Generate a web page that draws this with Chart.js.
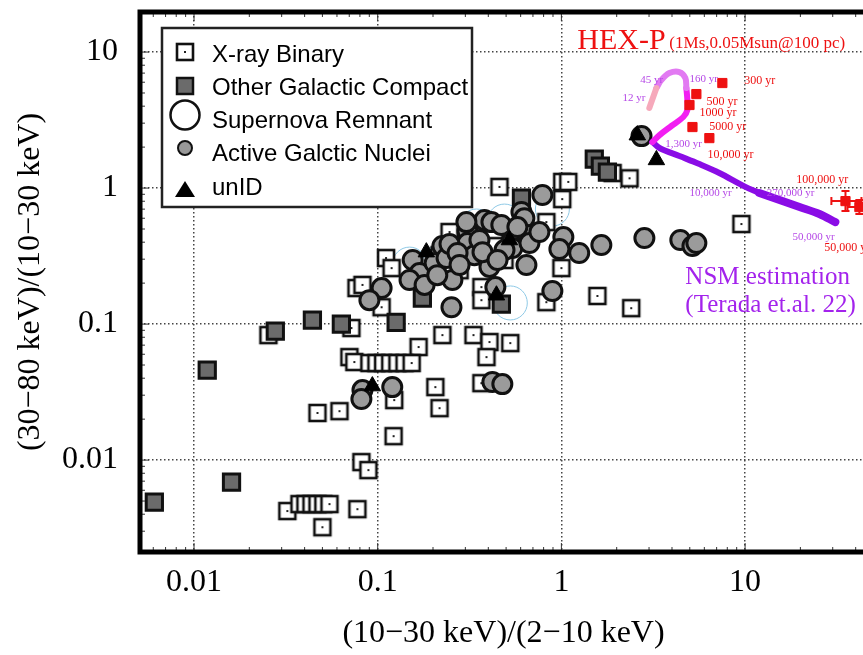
<!DOCTYPE html>
<html lang="en">
<head>
<meta charset="UTF-8">
<title>Hardness ratio diagram</title>
<style>
  html, body { margin: 0; padding: 0; background: #fff; overflow: hidden; }
  #hr { display: block; }
</style>
</head>
<body>
<canvas id="hr" width="867" height="655"></canvas>
<script src="https://cdn.jsdelivr.net/npm/chart.js"></script>
<script>
// ---- data: x = (10-30 keV)/(2-10 keV), y = (30-80 keV)/(10-30 keV) ----
const xTicks = [0.01, 0.1, 1, 10];
const yTicks = [0.01, 0.1, 1, 10];

const xrbX = [0.460, 1.01, 1.09, 1.01, 1.90, 2.35, 0.828, 1.00, 1.57, 2.40, 9.55,
  0.0766, 0.0826, 0.111, 0.119, 0.105, 0.262, 0.246, 0.367, 0.367, 0.828, 0.316, 0.432, 0.590, 0.490, 0.217, 0.279,
  0.225, 0.332, 0.406, 0.527, 0.391, 0.167, 0.0701, 0.0746, 0.206, 0.217, 0.123, 0.0470, 0.0619, 0.122, 0.0815,
  0.0890, 0.0322, 0.0775, 0.0500, 0.367, 0.0254, 0.0719,
  0.0901, 0.0984, 0.107, 0.117, 0.128, 0.140, 0.153,
  0.0375, 0.0404, 0.0436, 0.0470, 0.0506, 0.0546];
const xrbY = [1.02, 1.11, 1.11, 0.830, 1.29, 1.18, 0.562, 0.258, 0.161, 0.131, 0.544,
  0.184, 0.194, 0.306, 0.258, 0.133, 0.436, 0.475, 0.187, 0.150, 0.145, 0.350, 0.491, 0.415, 0.296, 0.321, 0.249,
  0.0830, 0.0830, 0.0738, 0.0725, 0.0572, 0.0678, 0.0572, 0.0526, 0.0344, 0.0241, 0.0276, 0.0222, 0.0229, 0.0150, 0.00967,
  0.00844, 0.00422, 0.00436, 0.00321, 0.0368, 0.0830, 0.0935,
  0.0517, 0.0517, 0.0517, 0.0517, 0.0517, 0.0517, 0.0517,
  0.00475, 0.00475, 0.00475, 0.00475, 0.00475, 0.00475];

const ogcX = [0.00608, 0.0118, 0.0160, 0.0277, 0.0441, 0.0634, 0.126, 0.175, 0.471, 0.606, 1.51, 1.63, 1.78];
const ogcY = [0.00491, 0.0459, 0.00688, 0.0889, 0.107, 0.100, 0.103, 0.155, 0.140, 0.844, 1.63, 1.45, 1.31];

const agnX = [0.105, 0.0901, 0.155, 0.169, 0.149, 0.204, 0.225, 0.237, 0.255, 0.252, 0.308, 0.308, 0.336, 0.381,
  0.416, 0.471, 0.406, 0.437, 0.534, 0.541, 0.606, 0.629, 0.653, 0.670, 0.645, 0.759, 0.788, 1.025, 0.975, 1.25,
  1.65, 2.83, 4.44, 5.17, 5.43, 0.893, 0.246, 0.304, 0.272, 0.358, 0.372, 0.576, 0.490, 0.449, 0.279, 0.180, 0.211,
  0.0826, 0.120, 0.0815, 0.421, 0.477, 2.73];
const agnY = [0.184, 0.150, 0.296, 0.237, 0.211, 0.281, 0.375, 0.306, 0.211, 0.133, 0.483, 0.394, 0.321, 0.582,
  0.562, 0.535, 0.263, 0.187, 0.401, 0.362, 0.667, 0.601, 0.451, 0.394, 0.272, 0.475, 0.889, 0.436, 0.356, 0.333,
  0.381, 0.429, 0.415, 0.375, 0.394, 0.175, 0.388, 0.562, 0.333, 0.415, 0.338, 0.517, 0.350, 0.296, 0.272, 0.194, 0.229,
  0.0327, 0.0344, 0.0281, 0.0375, 0.0362, 2.41];

const unidX = [0.0935, 0.184, 0.521, 0.443, 2.59, 3.29];
const unidY = [0.0350, 0.338, 0.415, 0.163, 2.45, 1.61];

const snrX = [0.149, 0.217, 0.345, 0.490, 0.893, 0.527];
const snrY = [0.276, 0.286, 0.526, 0.572, 0.701, 0.143];

// NSM track, split by age range
const nsmPinkX = [3.01, 3.29];
const nsmPinkY = [3.88, 5.44];
const nsmLilacX = [3.29, 3.50, 3.87, 4.39, 4.73, 4.79];
const nsmLilacY = [5.44, 6.22, 7.01, 7.13, 6.44, 5.44];
const nsmMagX = [4.79, 4.85, 4.85, 4.61, 3.97, 3.42, 3.13];
const nsmMagY = [5.44, 4.44, 3.75, 3.33, 2.86, 2.45, 2.18];
const nsmPurpleX = [3.13, 3.42, 4.39, 5.64, 7.24, 9.91, 11.96];
const nsmPurpleY = [2.18, 1.97, 1.72, 1.50, 1.29, 1.03, 0.919];
const nsmTailX = [11.96, 15.4, 19.8, 25.4, 31.0];
const nsmTailY = [0.919, 0.816, 0.725, 0.644, 0.562];

// HEX-P simulated points with errors (null = no bar)
const hexX = [7.52, 5.43, 4.98, 5.17, 6.39, 35.2, 41.9];
const hexY = [5.92, 4.91, 4.08, 2.81, 2.33, 0.802, 0.725];
const hexXLo = [null, null, null, null, null, 29.5, 36.1];
const hexXHi = [null, null, null, null, null, 43.0, 48.7];
const hexYLo = [null, null, null, null, null, 0.677, 0.644];
const hexYHi = [null, null, null, null, null, 0.950, 0.816];

// age labels: [text, x, y]
const nsmAges = [['12 yr', 2.15, 4.59], ['45 yr', 2.69, 6.22], ['160 yr', 4.98, 6.33], ['1,300 yr', 3.68, 2.11],
  ['10,000 yr', 4.98, 0.919], ['270,000 yr', 13.1, 0.919], ['50,000 yr', 18.1, 0.436]];
const hexAges = [['300 yr', 9.91, 6.12], ['500 yr', 6.16, 4.29], ['1000 yr', 5.64, 3.56], ['5000 yr', 6.39, 2.81],
  ['10,000 yr', 6.24, 1.75], ['100,000 yr', 19.0, 1.15], ['50,000 yr', 27.0, 0.362]];

const zip = (xs, ys) => xs.map((v, i) => ({ x: v, y: ys[i] }));

const serif = '"Liberation Serif", "Times New Roman", serif';
const sans = '"Liberation Sans", Arial, sans-serif';
const RED = '#ee1111';
const VIOLET = '#a323ec';

// open square with a dot in the middle
function openSquare() {
  const c = document.createElement('canvas');
  c.width = 22; c.height = 22;
  const g = c.getContext('2d');
  g.fillStyle = '#fff';
  g.fillRect(3, 3, 16, 16);
  g.lineWidth = 2.6;
  g.strokeStyle = '#111';
  g.strokeRect(3, 3, 16, 16);
  g.fillStyle = '#222';
  g.fillRect(10, 10, 2, 2);
  return c;
}

function track(xs, ys, color, width, order) {
  return {
    data: zip(xs, ys), showLine: true, pointRadius: 0, borderColor: color, borderWidth: width,
    borderCapStyle: 'round', borderJoinStyle: 'round', tension: 0.35, order: order
  };
}

// keep the plot box where it is, no room reserved for edge labels
function noEdgePadding(s) {
  s.paddingTop = 0; s.paddingBottom = 0; s.paddingLeft = 0; s.paddingRight = 0;
}

const framePlugin = {
  id: 'frame',
  afterDraw(chart) {
    const { ctx, chartArea: a, scales: { x, y } } = chart;
    ctx.save();
    ctx.strokeStyle = '#333';
    ctx.lineWidth = 1;
    ctx.beginPath();
    for (let d = -3; d <= 2; d++) {
      for (let m = 1; m <= 9; m++) {
        const v = m * Math.pow(10, d);
        const len = m === 1 ? 9 : 5;
        const px = x.getPixelForValue(v);
        if (px > a.left + 2 && px < a.right - 2) {
          ctx.moveTo(px, a.bottom); ctx.lineTo(px, a.bottom - len);
          ctx.moveTo(px, a.top); ctx.lineTo(px, a.top + len);
        }
        const py = y.getPixelForValue(v);
        if (py > a.top + 2 && py < a.bottom - 2) {
          ctx.moveTo(a.left, py); ctx.lineTo(a.left + len, py);
        }
      }
    }
    ctx.stroke();
    ctx.lineWidth = 5;
    ctx.strokeStyle = '#000';
    ctx.strokeRect(a.left, a.top, a.right - a.left, a.bottom - a.top);
    ctx.restore();
  }
};

const notesPlugin = {
  id: 'notes',
  afterDatasetsDraw(chart) {
    const { ctx, scales: { x, y } } = chart;
    ctx.save();
    // error bars on the HEX-P points
    ctx.strokeStyle = RED;
    ctx.lineWidth = 2;
    hexX.forEach((v, i) => {
      if (hexXLo[i] === null) return;
      const px = x.getPixelForValue(v), py = y.getPixelForValue(hexY[i]);
      const x0 = x.getPixelForValue(hexXLo[i]), x1 = x.getPixelForValue(hexXHi[i]);
      const y0 = y.getPixelForValue(hexYLo[i]), y1 = y.getPixelForValue(hexYHi[i]);
      ctx.beginPath();
      ctx.moveTo(x0, py); ctx.lineTo(x1, py);
      ctx.moveTo(x0, py - 4); ctx.lineTo(x0, py + 4);
      ctx.moveTo(x1, py - 4); ctx.lineTo(x1, py + 4);
      ctx.moveTo(px, y0); ctx.lineTo(px, y1);
      ctx.moveTo(px - 4, y0); ctx.lineTo(px + 4, y0);
      ctx.moveTo(px - 4, y1); ctx.lineTo(px + 4, y1);
      ctx.stroke();
    });
    ctx.textBaseline = 'middle';
    ctx.textAlign = 'left';
    ctx.font = '11px ' + serif;
    ctx.fillStyle = '#b548e6';
    nsmAges.forEach(([t, vx, vy]) => ctx.fillText(t, x.getPixelForValue(vx), y.getPixelForValue(vy)));
    ctx.font = '12px ' + serif;
    ctx.fillStyle = RED;
    hexAges.forEach(([t, vx, vy]) => ctx.fillText(t, x.getPixelForValue(vx), y.getPixelForValue(vy)));

    ctx.font = '30px ' + serif;
    ctx.fillText('HEX-P', x.getPixelForValue(1.22), y.getPixelForValue(12.0));
    ctx.font = '17px ' + serif;
    ctx.fillText('(1Ms,0.05Msun@100 pc)', x.getPixelForValue(3.87), y.getPixelForValue(11.5));

    ctx.font = '25px ' + serif;
    ctx.fillStyle = VIOLET;
    ctx.fillText('NSM estimation', x.getPixelForValue(4.73), y.getPixelForValue(0.222));
    ctx.fillText('(Terada et.al. 22)', x.getPixelForValue(4.73), y.getPixelForValue(0.138));
    ctx.restore();
  }
};

// legend box in the upper left of the plot
const legendPlugin = {
  id: 'boxLegend',
  afterDraw(chart) {
    const ctx = chart.ctx;
    const left = 162, top = 28, w = 310, h = 179;
    const rows = ['X-ray Binary', 'Other Galactic Compact', 'Supernova Remnant', 'Active Galctic Nuclei', 'unID'];
    const ty = [55, 88, 121, 154, 188];
    const my = [52, 86, 115, 148, 190];
    const mx = 185;
    ctx.save();
    ctx.fillStyle = '#fff';
    ctx.fillRect(left, top, w, h);
    ctx.lineWidth = 2.5;
    ctx.strokeStyle = '#222';
    ctx.strokeRect(left, top, w, h);

    ctx.drawImage(openSquare(), mx - 11, my[0] - 11);
    ctx.fillStyle = '#6b6b6b';
    ctx.fillRect(mx - 8, my[1] - 8, 16, 16);
    ctx.lineWidth = 2.5;
    ctx.strokeStyle = '#111';
    ctx.strokeRect(mx - 8, my[1] - 8, 16, 16);
    ctx.beginPath();
    ctx.arc(mx, my[2], 14.5, 0, Math.PI * 2);
    ctx.stroke();
    ctx.beginPath();
    ctx.arc(mx, my[3], 7, 0, Math.PI * 2);
    ctx.fillStyle = '#999';
    ctx.fill();
    ctx.lineWidth = 2;
    ctx.stroke();
    ctx.beginPath();
    ctx.moveTo(mx, my[4] - 9);
    ctx.lineTo(mx + 10, my[4] + 7);
    ctx.lineTo(mx - 10, my[4] + 7);
    ctx.closePath();
    ctx.fillStyle = '#000';
    ctx.fill();

    ctx.font = '24px ' + sans;
    ctx.textBaseline = 'middle';
    ctx.fillStyle = '#000';
    rows.forEach((t, i) => ctx.fillText(t, 212, ty[i]));
    ctx.restore();
  }
};

new Chart(document.getElementById('hr'), {
  type: 'scatter',
  data: {
    datasets: [
      { label: 'Supernova Remnant', data: zip(snrX, snrY), pointStyle: 'circle', pointRadius: 17,
        backgroundColor: 'rgba(0,0,0,0)', borderColor: '#8ec9e6', borderWidth: 1, order: 10 },
      { label: 'X-ray Binary', data: zip(xrbX, xrbY), pointStyle: openSquare(), pointRadius: 10, order: 9 },
      { label: 'Other Galactic Compact', data: zip(ogcX, ogcY), pointStyle: 'rect', pointRadius: 11.5,
        backgroundColor: '#6b6b6b', borderColor: '#111', borderWidth: 3, order: 8 },
      { label: 'Active Galctic Nuclei', data: zip(agnX, agnY), pointStyle: 'circle', pointRadius: 9.5,
        backgroundColor: '#9b9b9b', borderColor: '#111', borderWidth: 3, order: 7 },
      { label: 'unID', data: zip(unidX, unidY), pointStyle: 'triangle', pointRadius: 9.5,
        backgroundColor: '#000', borderColor: '#000', borderWidth: 1, order: 6 },
      track(nsmPinkX, nsmPinkY, '#f6a9bb', 6, 5),
      track(nsmLilacX, nsmLilacY, '#e27af2', 6, 5),
      track(nsmMagX, nsmMagY, '#f21ef2', 6, 5),
      track(nsmPurpleX, nsmPurpleY, '#8a0ce6', 6, 5),
      track(nsmTailX, nsmTailY, '#8a0ce6', 8, 5),
      { label: 'HEX-P', data: zip(hexX, hexY), pointStyle: 'rect', pointRadius: 6.5,
        backgroundColor: RED, borderColor: RED, borderWidth: 1, order: 4 }
    ]
  },
  options: {
    responsive: false,
    animation: false,
    devicePixelRatio: 1,
    layout: { autoPadding: false, padding: { top: 12, right: 0, left: 0, bottom: 0 } },
    plugins: { legend: { display: false }, tooltip: { enabled: false } },
    scales: {
      x: {
        type: 'logarithmic', min: 0.00508, max: 46.1,
        afterBuildTicks: s => { s.ticks = xTicks.map(v => ({ value: v })); },
        afterFit: s => { s.height = 103; noEdgePadding(s); },
        grid: { color: '#444', lineWidth: 1.5, drawTicks: false },
        border: { display: false, dash: [1.5, 2.5] },
        ticks: { font: { family: serif, size: 32 }, color: '#000', padding: 11, autoSkip: false, maxRotation: 0,
          callback: v => String(v) },
        title: { display: true, text: '(10\u221230 keV)/(2\u221210 keV)', font: { family: serif, size: 32 },
          color: '#000', padding: { top: 0, bottom: 2 } }
      },
      y: {
        type: 'logarithmic', min: 0.00211, max: 19.7,
        afterBuildTicks: s => { s.ticks = yTicks.map(v => ({ value: v })); },
        afterFit: s => { s.width = 140; noEdgePadding(s); },
        grid: { color: '#444', lineWidth: 1.5, drawTicks: false },
        border: { display: false, dash: [1.5, 2.5] },
        ticks: { font: { family: serif, size: 32 }, color: '#000', padding: 22, autoSkip: false,
          callback: v => String(v) },
        title: { display: true, text: '(30\u221280 keV)/(10\u221230 keV)', font: { family: serif, size: 32 },
          color: '#000', padding: { top: 11, bottom: 0 } }
      }
    }
  },
  plugins: [framePlugin, notesPlugin, legendPlugin]
});
</script>
</body>
</html>
